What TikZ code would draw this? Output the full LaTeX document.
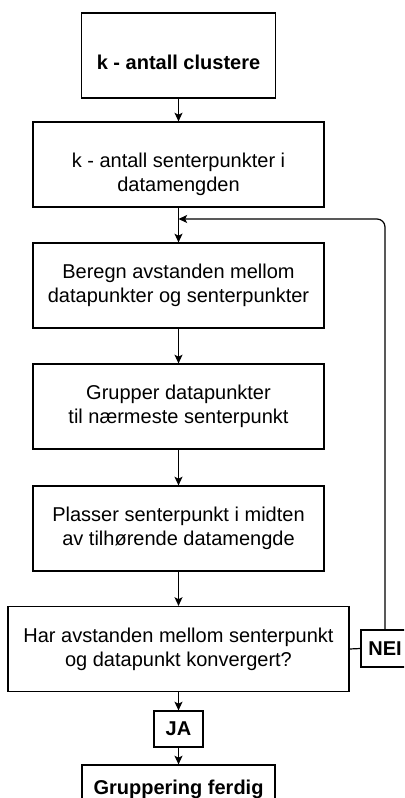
\documentclass[tikz,border=0pt]{standalone}
\usepackage{fontspec}
\setmainfont{Liberation Sans}
\usetikzlibrary{arrows.meta}

\tikzset{
  stepbox/.style={draw, line width=0.9pt, inner sep=0pt, minimum width=218.25pt, minimum height=63.75pt, align=center},
  answerbox/.style={draw, line width=0.9pt, inner sep=0pt, minimum width=36.75pt, minimum height=27pt, font=\fontsize{15pt}{18pt}\selectfont\bfseries},
  flow/.style={-{Stealth[length=6.5pt,width=6pt,inset=1.5pt]}, line width=0.9pt},
}

\begin{document}
\begin{tikzpicture}[x=0.75pt,y=0.75pt,yscale=-1,xscale=1, font=\fontsize{15pt}{18pt}\selectfont]

\useasboundingbox (0,0) rectangle (404,798);
\clip (0,0) rectangle (404,798);

% steps
\node (clusters) [stepbox, minimum width=145.5pt, label={[yshift=-5pt]center:\textbf{k - antall clustere}}] at (178.5,55.5) {};
\node (senter) [stepbox, label={[align=center, yshift=-7pt]center:k - antall senterpunkter i\\datamengden}] at (178.5,164.5) {};
\node (beregn) [stepbox] at (178.5,285.5) {Beregn avstanden mellom\\datapunkter og senterpunkter};
\node (grupper) [stepbox] at (178.5,406.5) {Grupper datapunkter\\til nærmeste senterpunkt};
\node (plasser) [stepbox] at (178.5,528.5) {Plasser senterpunkt i midten\\av tilhørende datamengde};
\node (konv) [stepbox, minimum width=255.75pt] at (178.5,649) {Har avstanden mellom senterpunkt\\og datapunkt konvergert?};

% answers
\node (ja) [answerbox] at (178.5,729) {JA};
\node (nei) [answerbox, minimum width=36pt, minimum height=27.75pt] at (385,648.5) {NEI};
\node (ferdig) [answerbox, minimum width=144.75pt, minimum height=36pt] at (178.5,789) {Gruppering ferdig};

\coordinate (merge) at (178.5,219);

% connectors
\draw[flow] (clusters.south) -- (senter.north);
\draw[flow] (senter.south) -- (beregn.north);
\draw[flow] (beregn.south) -- (grupper.north);
\draw[flow] (grupper.south) -- (plasser.north);
\draw[flow] (plasser.south) -- (konv.north);
\draw[flow] (konv.south) -- (ja.north);
\draw[flow] (ja.south) -- (ferdig.north);
\draw[line width=0.9pt] (konv.east) -- (nei.west);
\draw[flow, rounded corners=6pt] (nei.north) |- (merge);

\end{tikzpicture}
\end{document}
